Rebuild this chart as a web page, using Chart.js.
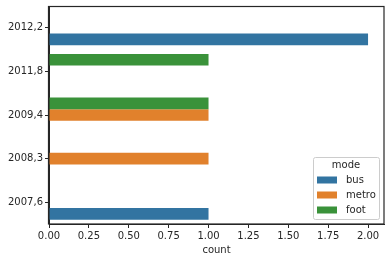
<!DOCTYPE html>
<html>
<head>
<meta charset="utf-8">
<script src="https://cdn.jsdelivr.net/npm/chart.js@4"></script>
<style>
html,body{margin:0;padding:0;background:#fff;}
#wrap{width:391px;height:262px;position:relative;}
</style>
</head>
<body>
<div id="wrap"><canvas id="c" width="391" height="262"></canvas></div>
<script>
const categories = ['2012,2', '2011,8', '2009,4', '2008,3', '2007,6'];
const hueLevels = ['bus', 'metro', 'foot'];
const busCounts = [2, 0, 0, 0, 1];
const metroCounts = [0, 0, 1, 1, 0];
const footCounts = [0, 1, 1, 0, 0];
const xTicks = [0, 0.25, 0.5, 0.75, 1, 1.25, 1.5, 1.75, 2];

const colors = {bus: '#3274a1', metro: '#e1812c', foot: '#3a923a'};
const TXT = '#262626';
const FONT = {family: '"DejaVu Sans"', size: 10};

const frameAndLegend = {
  id: 'frameAndLegend',
  afterDraw(chart) {
    const ctx = chart.ctx;
    const a = chart.chartArea;
    ctx.save();
    ctx.strokeStyle = TXT;
    ctx.lineWidth = 1.2;
    ctx.strokeRect(Math.round(a.left) - 0.5, Math.round(a.top) + 0.5,
                   Math.round(a.right - a.left) + 0.5, Math.round(a.bottom - a.top) - 0.5);
    // legend
    const w = 66, h = 62;
    const x = a.right - 5 - w, y = a.bottom - 5 - h;
    ctx.lineWidth = 1;
    ctx.fillStyle = 'rgba(255,255,255,0.8)';
    ctx.strokeStyle = '#cccccc';
    ctx.beginPath();
    ctx.roundRect(x + 0.5, y + 0.5, w, h, 2);
    ctx.fill();
    ctx.stroke();
    ctx.fillStyle = TXT;
    ctx.font = '10px "DejaVu Sans"';
    ctx.textBaseline = 'middle';
    ctx.textAlign = 'center';
    ctx.fillText('mode', x + w / 2, y + 8.5);
    ctx.textAlign = 'left';
    hueLevels.forEach((lvl, i) => {
      const cy = y + 23 + i * 15;
      ctx.fillStyle = colors[lvl];
      ctx.fillRect(x + 4, cy - 3.5, 20, 7);
      ctx.fillStyle = TXT;
      ctx.fillText(lvl, x + 33, cy);
    });
    ctx.restore();
  }
};

const seriesData = {bus: busCounts, metro: metroCounts, foot: footCounts};
// seaborn draws the last hue level nearest the top here
const drawOrder = ['foot', 'metro', 'bus'];

new Chart(document.getElementById('c'), {
  type: 'bar',
  data: {
    labels: categories,
    datasets: drawOrder.map(lvl => ({
      label: lvl,
      data: seriesData[lvl],
      backgroundColor: colors[lvl],
      borderWidth: 0,
      categoryPercentage: 0.8,
      barPercentage: 1.0
    }))
  },
  options: {
    indexAxis: 'y',
    responsive: false,
    animation: false,
    layout: {padding: {top: 6, right: 7, left: 0, bottom: 0}},
    plugins: {legend: {display: false}, tooltip: {enabled: false}},
    scales: {
      x: {
        type: 'linear',
        min: 0,
        max: 2.1,
        afterBuildTicks: s => { s.ticks = xTicks.map(v => ({value: v})); },
        ticks: {color: TXT, font: FONT, padding: 2, maxRotation: 0,
                callback: v => Number(v).toFixed(2)},
        grid: {display: true, drawOnChartArea: false, drawTicks: true, tickLength: 4, color: TXT},
        border: {display: true, color: TXT, width: 1},
        title: {display: true, text: 'count', color: TXT, font: FONT, padding: {top: 2, bottom: 6}},
        afterFit: s => { s.height = 38; s.paddingLeft = 0; s.paddingRight = 0; }
      },
      y: {
        type: 'category',
        offset: true,
        ticks: {color: TXT, font: FONT, padding: 2},
        grid: {display: true, drawOnChartArea: false, drawTicks: true, tickLength: 4, color: TXT, offset: false},
        border: {display: true, color: TXT, width: 1},
        afterFit: s => { s.width = 49; s.paddingTop = 0; s.paddingBottom = 0; }
      }
    }
  },
  plugins: [frameAndLegend]
});
</script>
</body>
</html>
